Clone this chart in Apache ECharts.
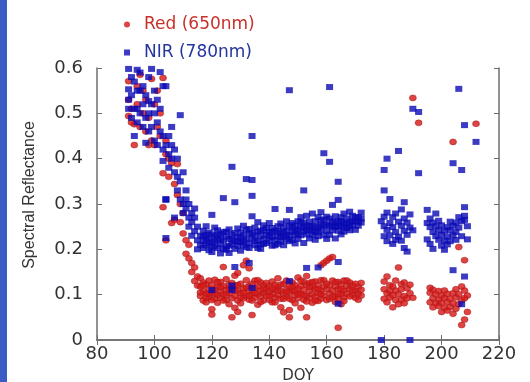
<!DOCTYPE html>
<html>
<head>
<meta charset="utf-8">
<script src="https://cdn.jsdelivr.net/npm/echarts@6/dist/echarts.min.js"></script>
<style>
  html, body { margin: 0; padding: 0; background: #fff; }
  #chart { width: 530px; height: 382px; }
</style>
</head>
<body>
<div id="chart"></div>
<script>
// Red (650nm) reflectance, [DOY, value]
var redEarly = [
  [91,0.571],[91,0.53],[91,0.494],[92,0.51],[92,0.48],[93,0.476],[93,0.43],[94,0.56],[94,0.52],
  [95,0.47],[95,0.585],[96,0.55],[96,0.50],[97,0.46],[97,0.53],[98,0.43],[98,0.49],[99,0.576],
  [99,0.44],[100,0.43],[100,0.52],[101,0.47],[101,0.55],[102,0.45],[102,0.50],[103,0.578],
  [103,0.368],[103,0.293],[104,0.41],[104,0.44],[104,0.22],[105,0.40],[105,0.36],[106,0.39],
  [106,0.258],[107,0.265],[107,0.344],[108,0.388],[108,0.32],[109,0.30],[109,0.26],[110,0.28],
  [110,0.235],[111,0.22],[111,0.19],[112,0.21],[112,0.18],[113,0.17],[113,0.15],[114,0.16],
  [114,0.13],[115,0.12],[115,0.14]
];
var redMid = [
  [116,0.118],[116,0.097],[116,0.136],[117,0.108],[117,0.087],[117,0.127],[118,0.102],[118,0.123],[118,0.083],
  [119,0.113],[119,0.131],[119,0.094],[120,0.104],[120,0.068],[120,0.056],[120,0.121],[121,0.112],[121,0.091],
  [121,0.133],[122,0.099],[122,0.117],[122,0.082],[123,0.107],[123,0.093],[123,0.128],[124,0.101],[124,0.161],
  [124,0.119],[125,0.088],[125,0.111],[125,0.134],[126,0.103],[126,0.079],[126,0.122],[127,0.05],[127,0.114],
  [127,0.092],[128,0.121],[128,0.098],[128,0.071],[128,0.142],[129,0.109],[129,0.087],[129,0.062],[129,0.148],
  [130,0.103],[130,0.124],[130,0.081],[131,0.113],[131,0.165],[131,0.092],[132,0.097],[132,0.132],[132,0.175],
  [133,0.108],[133,0.089],[133,0.119],[133,0.158],[134,0.055],[134,0.102],[134,0.124],[135,0.114],[135,0.093],
  [135,0.131],[136,0.101],[136,0.118],[136,0.078],[137,0.109],[137,0.096],[137,0.127],[138,0.087],[138,0.121],
  [138,0.104],[139,0.112],[139,0.098],[140,0.119],[140,0.089],[140,0.106],[141,0.101],[141,0.129],[141,0.083],
  [142,0.111],[142,0.094],[142,0.122],[143,0.098],[143,0.117],[143,0.136],[144,0.108],[144,0.091],[144,0.072],
  [145,0.103],[145,0.124],[145,0.061],[146,0.112],[146,0.096],[146,0.131],[147,0.05],[147,0.104],[147,0.118],
  [147,0.066],[148,0.109],[148,0.088],[148,0.127],[149,0.099],[149,0.121],[149,0.081],[150,0.113],[150,0.138],
  [150,0.092],[151,0.102],[151,0.119],[151,0.071],[152,0.111],[152,0.128],[152,0.089],[153,0.05],[153,0.097],
  [153,0.122],[153,0.141],[154,0.108],[154,0.093],[154,0.126],[155,0.101],[155,0.117],[155,0.082],[156,0.113],
  [156,0.129],[156,0.096],[157,0.104],[157,0.121],[157,0.086],[158,0.109],[158,0.132],[158,0.091],[158,0.165],
  [159,0.17],[159,0.098],[159,0.118],[160,0.175],[160,0.112],[160,0.088],[161,0.18],[161,0.103],[161,0.121],
  [162,0.183],[162,0.109],[162,0.131],[163,0.097],[163,0.118],[163,0.084],[164,0.027],[164,0.112],[164,0.092],
  [164,0.128],[165,0.101],[165,0.123],[165,0.079],[166,0.109],[166,0.131],[166,0.094],[167,0.102],[167,0.119],
  [168,0.113],[168,0.127],[169,0.099],[169,0.121],[170,0.108],[170,0.093],[171,0.117],[171,0.102],[172,0.111],
  [172,0.126]
];
var redMidExtra = [
  [116,0.105],[117,0.121],[118,0.094],[119,0.102],[120,0.088],[121,0.103],[122,0.128],[123,0.116],[124,0.087],
  [125,0.099],[126,0.113],[127,0.126],[128,0.109],[129,0.121],[130,0.094],[131,0.104],[132,0.116],[133,0.098],
  [134,0.087],[135,0.104],[136,0.132],[137,0.084],[138,0.113],[139,0.126],[140,0.097],[141,0.114],[142,0.083],
  [143,0.109],[144,0.122],[145,0.091],[146,0.106],[147,0.091],[148,0.117],[149,0.108],[150,0.101],[151,0.131],
  [152,0.099],[153,0.085],[154,0.117],[155,0.128],[156,0.087],[157,0.112],[158,0.101],[159,0.132],[160,0.124],
  [161,0.091],[162,0.095],[163,0.128],[164,0.101],[165,0.112],[166,0.086],[167,0.131],[168,0.096],[169,0.109],
  [170,0.124],[171,0.089],[172,0.098]
];
var redLate = [
  [180,0.112],[180,0.091],[180,0.129],[181,0.14],[181,0.103],[181,0.083],[182,0.121],[182,0.094],[182,0.108],
  [183,0.099],[183,0.072],[183,0.118],[184,0.109],[184,0.088],[184,0.131],[185,0.16],[185,0.101],[185,0.079],
  [186,0.123],[186,0.112],[186,0.089],[187,0.097],[187,0.127],[187,0.081],[188,0.114],[188,0.092],[189,0.103],
  [189,0.122],[190,0.534],[190,0.093],[192,0.479],
  [196,0.104],[196,0.083],[196,0.115],[197,0.092],[197,0.111],[197,0.072],[198,0.101],[198,0.081],[199,0.089],
  [199,0.108],[199,0.075],[200,0.098],[200,0.082],[200,0.062],[201,0.093],[201,0.071],[201,0.109],[202,0.084],
  [202,0.102],[202,0.065],[203,0.091],[203,0.073],[204,0.437],[204,0.103],[204,0.081],[204,0.058],[205,0.094],
  [205,0.112],[205,0.069],[206,0.205],[206,0.101],[206,0.079],[207,0.033],[207,0.118],[207,0.088],[208,0.176],
  [208,0.045],[208,0.109],[208,0.092],[209,0.098],[209,0.062],[212,0.477]
];

// NIR (780nm) reflectance, [DOY, value]
var nirEarly = [
  [91,0.598],[91,0.553],[91,0.51],[91,0.53],[92,0.58],[92,0.49],[92,0.54],[93,0.45],[93,0.51],[93,0.57],
  [94,0.596],[94,0.51],[94,0.55],[94,0.48],[95,0.55],[95,0.50],[95,0.59],[96,0.52],[96,0.47],[96,0.56],
  [97,0.49],[97,0.54],[97,0.435],[98,0.527],[98,0.58],[98,0.50],[98,0.46],[99,0.598],[99,0.52],[99,0.47],
  [100,0.50],[100,0.55],[100,0.44],[101,0.53],[101,0.48],[101,0.43],[102,0.591],[102,0.46],[102,0.51],
  [103,0.395],[103,0.45],[103,0.42],[103,0.56],[104,0.56],[104,0.43],[104,0.311],[104,0.309],[104,0.225],
  [105,0.41],[105,0.45],[105,0.38],[106,0.47],[106,0.43],[106,0.40],[107,0.42],[107,0.37],[107,0.27],
  [108,0.40],[108,0.36],[108,0.33],[109,0.496],[109,0.35],[109,0.31],[110,0.37],[110,0.30],[110,0.28],
  [111,0.33],[111,0.29],[111,0.31],[112,0.30],[112,0.27],[112,0.25],[113,0.28],[113,0.26],[113,0.23],
  [114,0.27],[114,0.24],[114,0.29],[115,0.25],[115,0.22],[115,0.20],[116,0.23],[116,0.21]
];
var nirMid = [
  [117,0.218],[117,0.241],[117,0.203],[118,0.209],[118,0.232],[118,0.251],[119,0.224],[119,0.198],[119,0.237],
  [120,0.276],[120,0.194],[120,0.216],[120,0.11],[120,0.233],[121,0.207],[121,0.229],[121,0.248],[122,0.221],
  [122,0.203],[122,0.242],[123,0.212],[123,0.234],[123,0.191],[124,0.313],[124,0.219],[124,0.238],[125,0.206],
  [125,0.228],[125,0.199],[126,0.223],[126,0.244],[126,0.192],[127,0.382],[127,0.211],[127,0.11],[127,0.12],
  [127,0.232],[128,0.304],[128,0.161],[128,0.218],[128,0.201],[129,0.227],[129,0.208],[129,0.246],[130,0.216],
  [130,0.238],[130,0.197],[131,0.209],[131,0.231],[131,0.252],[132,0.355],[132,0.222],[132,0.243],[133,0.213],
  [133,0.234],[133,0.203],[133,0.17],[134,0.45],[134,0.353],[134,0.318],[134,0.273],[134,0.224],[134,0.115],
  [135,0.231],[135,0.209],[135,0.248],[136,0.26],[136,0.218],[136,0.239],[137,0.211],[137,0.229],[137,0.201],
  [138,0.223],[138,0.242],[138,0.253],[139,0.232],[139,0.214],[140,0.219],[140,0.238],[140,0.258],[141,0.227],
  [141,0.208],[141,0.247],[142,0.289],[142,0.221],[142,0.241],[143,0.229],[143,0.251],[143,0.212],[144,0.236],
  [144,0.217],[144,0.257],[145,0.228],[145,0.249],[145,0.209],[146,0.241],[146,0.222],[146,0.262],[147,0.551],
  [147,0.287],[147,0.13],[147,0.231],[147,0.252],[148,0.239],[148,0.221],[148,0.258],[149,0.232],[149,0.253],
  [149,0.213],[150,0.244],[150,0.262],[150,0.223],[151,0.248],[151,0.231],[151,0.271],[152,0.33],[152,0.239],
  [152,0.259],[152,0.214],[153,0.159],[153,0.252],[153,0.233],[153,0.274],[154,0.243],[154,0.261],[154,0.224],
  [155,0.251],[155,0.232],[155,0.279],[156,0.238],[156,0.262],[156,0.221],[157,0.16],[157,0.249],[157,0.271],
  [157,0.229],[158,0.243],[158,0.264],[158,0.282],[159,0.412],[159,0.252],[159,0.231],[160,0.241],[160,0.272],
  [160,0.223],[161,0.558],[161,0.393],[161,0.253],[161,0.232],[162,0.298],[162,0.261],[162,0.242],[163,0.249],
  [163,0.273],[163,0.224],[164,0.349],[164,0.309],[164,0.172],[164,0.08],[164,0.262],[164,0.241],[165,0.252],
  [165,0.271],[165,0.233],[166,0.258],[166,0.239],[166,0.279],[167,0.247],[167,0.268],[168,0.261],[168,0.242],
  [168,0.283],[169,0.253],[169,0.274],[170,0.262],[170,0.243],[171,0.271],[171,0.252],[172,0.259],[172,0.281]
];
var nirMidExtra = [
  [117,0.229],[118,0.221],[119,0.213],[120,0.205],[121,0.218],[122,0.231],[123,0.224],[124,0.201],[125,0.239],
  [126,0.208],[127,0.222],[128,0.236],[129,0.217],[130,0.226],[131,0.218],[132,0.205],[133,0.245],[134,0.236],
  [135,0.219],[136,0.203],[137,0.241],[138,0.212],[139,0.247],[140,0.229],[141,0.238],[142,0.209],[143,0.24],
  [144,0.227],[145,0.238],[146,0.231],[147,0.218],[148,0.248],[149,0.242],[150,0.234],[151,0.259],[152,0.248],
  [153,0.242],[154,0.252],[155,0.241],[156,0.249],[157,0.238],[158,0.254],[159,0.266],[160,0.255],[161,0.268],
  [162,0.251],[163,0.259],[164,0.251],[165,0.262],[166,0.248],[167,0.257],[168,0.251],[169,0.262],[170,0.271],
  [171,0.261],[172,0.268]
];
var nirLate = [
  [179,0.0],[179,0.262],[180,0.33],[180,0.375],[180,0.251],[180,0.229],[180,0.272],[181,0.40],[181,0.243],
  [181,0.281],[181,0.218],[182,0.311],[182,0.258],[182,0.231],[183,0.249],[183,0.271],[183,0.212],[184,0.238],
  [184,0.279],[184,0.221],[185,0.417],[185,0.261],[185,0.228],[186,0.252],[186,0.288],[186,0.219],[187,0.304],
  [187,0.241],[187,0.268],[187,0.203],[188,0.259],[188,0.232],[188,0.195],[189,0.0],[189,0.248],[189,0.277],
  [190,0.51],[190,0.242],[192,0.503],[192,0.368],
  [195,0.287],[195,0.258],[195,0.222],[196,0.249],[196,0.268],[196,0.212],[197,0.238],[197,0.259],[197,0.201],
  [198,0.229],[198,0.251],[198,0.279],[199,0.221],[199,0.242],[199,0.263],[200,0.232],[200,0.208],[200,0.253],
  [201,0.219],[201,0.241],[201,0.199],[202,0.228],[202,0.249],[202,0.211],[203,0.242],[203,0.218],[203,0.261],
  [204,0.39],[204,0.154],[204,0.252],[204,0.231],[205,0.259],[205,0.238],[205,0.221],[206,0.554],[206,0.271],
  [206,0.248],[207,0.375],[207,0.079],[207,0.262],[207,0.229],[208,0.293],[208,0.265],[208,0.14],[208,0.274],
  [208,0.474],[209,0.222],[209,0.251],[212,0.437]
];

var redData = redEarly.concat(redMid, redMidExtra, redLate);
var nirData = nirEarly.concat(nirMid, nirMidExtra, nirLate);

var xTicks = { min: 80, max: 220, step: 20 };
var yTicks = { min: 0, max: 0.6, step: 0.1 };

var chart = echarts.init(document.getElementById('chart'));

var axisCommon = {
  axisLine: { show: true, lineStyle: { color: '#6e6e6e', width: 1.5 } },
  axisTick: { show: true, inside: true, length: 5, lineStyle: { color: '#6e6e6e' } },
  splitLine: { show: false }
};

var option = {
  backgroundColor: '#ffffff',
  animation: false,
  graphic: [
    { type: 'rect', left: 0, top: 0, shape: { width: 7, height: 382 }, style: { fill: '#3a5cc4' } },
    {
      type: 'text', x: 30, y: 195, rotation: Math.PI / 2,
      style: {
        text: 'Spectral Reflectance', fill: '#333',
        font: '16px "Liberation Sans Narrow", "Liberation Sans", sans-serif',
        align: 'center', verticalAlign: 'middle'
      }
    }
  ],
  legend: {
    orient: 'vertical',
    left: 119,
    top: 11,
    itemWidth: 6,
    itemHeight: 6,
    itemGap: 11,
    itemStyle: { borderWidth: 0 },
    textStyle: { fontSize: 17, fontFamily: 'DejaVu Sans', padding: [0, 0, 0, 9] },
    data: [
      { name: 'Red (650nm)', icon: 'circle', textStyle: { color: '#c8312a' } },
      { name: 'NIR (780nm)', icon: 'rect', textStyle: { color: '#24359e' } }
    ]
  },
  grid: { left: 97, right: 31, top: 68, bottom: 42, outerBoundsMode: 'none' },
  xAxis: [
    Object.assign({
      type: 'value', min: xTicks.min, max: xTicks.max, interval: xTicks.step,
      name: 'DOY', nameLocation: 'middle', nameGap: 29,
      nameTextStyle: { fontSize: 15, color: '#333', fontFamily: 'DejaVu Sans' },
      axisLabel: { fontSize: 18, color: '#333', fontFamily: 'DejaVu Sans', margin: 5 }
    }, axisCommon),
    Object.assign({
      type: 'value', position: 'top', min: xTicks.min, max: xTicks.max, interval: xTicks.step,
      axisLabel: { show: false }
    }, axisCommon)
  ],
  yAxis: [
    Object.assign({
      type: 'value', min: yTicks.min, max: yTicks.max, interval: yTicks.step,
      axisLabel: {
        fontSize: 18, color: '#333', fontFamily: 'DejaVu Sans', margin: 14,
        formatter: function (v) { return v === 0 ? '0' : v.toFixed(1); }
      }
    }, axisCommon),
    Object.assign({
      type: 'value', position: 'right', min: yTicks.min, max: yTicks.max, interval: yTicks.step,
      axisLabel: { show: false }
    }, axisCommon)
  ],
  series: [
    {
      name: 'Red (650nm)', type: 'scatter', symbol: 'circle', symbolSize: [7, 6],
      itemStyle: { color: '#d41717', borderColor: '#a81a1a', borderWidth: 0.6 },
      data: redData
    },
    {
      name: 'NIR (780nm)', type: 'scatter', symbol: 'rect', symbolSize: [7, 6],
      itemStyle: { color: '#0a0ab4' },
      data: nirData
    }
  ]
};

chart.setOption(option);
</script>
</body>
</html>
